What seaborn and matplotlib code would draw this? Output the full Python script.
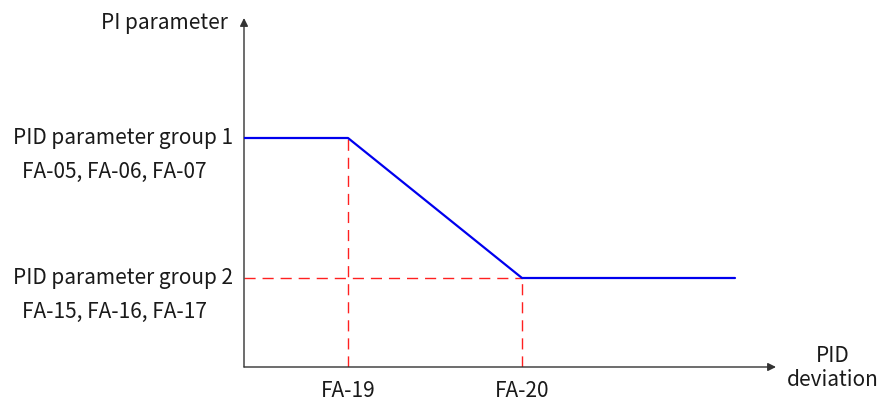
import matplotlib
matplotlib.use("Agg")

import matplotlib.pyplot as plt
import pandas as pd
import seaborn as sns

# ── Data (units: pixels from the origin of the sketch) ──────────────────────
deviation = [0, 104, 278, 491]          # origin, FA-19, FA-20, end of line
pi_value = [229, 229, 89, 89]           # group 1 ... group 2
fa19_x, fa20_x = 104, 278
group1_y, group2_y = 229, 89
x_max, y_max = 532, 349

group_labels = ["PID parameter group 1", "PID parameter group 2"]
group_codes = ["FA-05, FA-06, FA-07", "FA-15, FA-16, FA-17"]
x_labels = ["FA-19", "FA-20"]

# ── Style ───────────────────────────────────────────────────────────────────
sns.set_theme(style="white")
plt.rcParams["font.family"] = ["Noto Sans CJK SC", "DejaVu Sans"]
FS = 15
TXT = "#1a1a1a"

fig = plt.figure(figsize=(8.82, 4.04), dpi=100)
ax = fig.add_axes([244 / 882, 37 / 404, (776 - 244) / 882, (367 - 18) / 404])
ax.set_xlim(0, x_max)
ax.set_ylim(0, y_max)
for s in ax.spines.values():
    s.set_visible(False)
ax.set_xticks([])
ax.set_yticks([])
ax.patch.set_alpha(0)

# axes with arrows
arrow = dict(arrowstyle="-|>", color="#333333", lw=1.0, mutation_scale=12,
             shrinkA=0, shrinkB=0)
ax.annotate("", xy=(x_max, 0), xytext=(0, 0), arrowprops=arrow, annotation_clip=False)
ax.annotate("", xy=(0, y_max), xytext=(0, 0), arrowprops=arrow, annotation_clip=False)

# red dashed guides
dash = dict(color="#ff2020", lw=1.0, dashes=(8, 5))
ax.plot([fa19_x, fa19_x], [0, group1_y], **dash)
ax.plot([fa20_x, fa20_x], [0, group2_y], **dash)
ax.plot([0, fa20_x], [group2_y, group2_y], **dash)

# blue characteristic curve
df = pd.DataFrame({"deviation": deviation, "pi": pi_value})
sns.lineplot(data=df, x="deviation", y="pi", color="#0000ee", lw=1.6, ax=ax,
             sort=False, zorder=5)
ax.set_xlabel("")
ax.set_ylabel("")

# labels
ax.text(-16, y_max - 5, "PI parameter", ha="right", va="center", fontsize=FS, color=TXT)
for y, lab, code in zip([group1_y, group2_y], group_labels, group_codes):
    ax.text(-11, y, lab, ha="right", va="center", fontsize=FS, color=TXT)
    ax.text(-130, y - 34, code, ha="center", va="center", fontsize=FS, color=TXT)
for x, lab in zip([fa19_x, fa20_x], x_labels):
    ax.text(x, -24, lab, ha="center", va="center", fontsize=FS, color=TXT)
ax.text(x_max + 57, 11, "PID", ha="center", va="center", fontsize=FS, color=TXT)
ax.text(x_max + 57, -13, "deviation", ha="center", va="center", fontsize=FS, color=TXT)

fig.savefig("out.png", dpi=100)
